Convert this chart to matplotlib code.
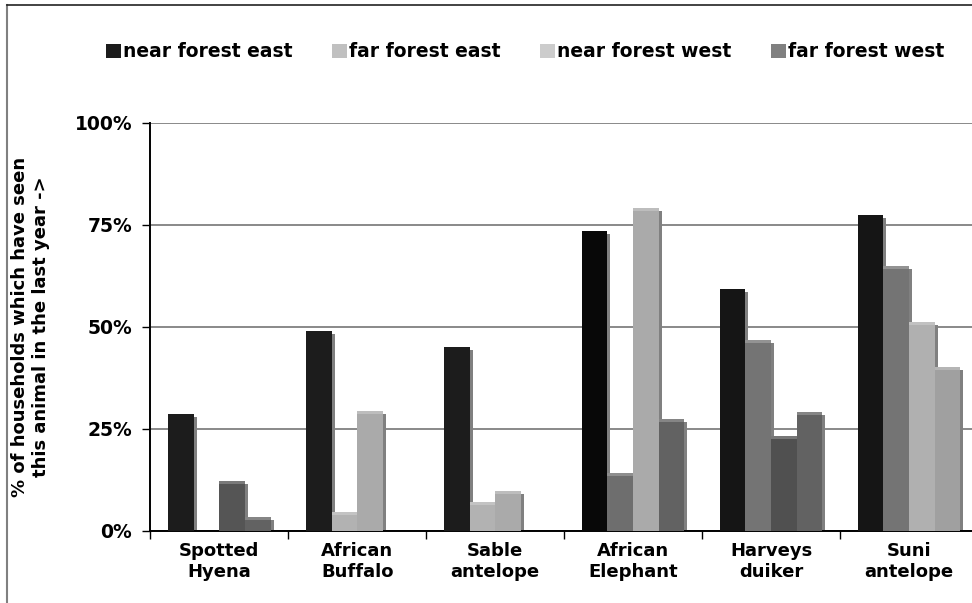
import numpy as np
import matplotlib.pyplot as plt
from matplotlib.patches import Patch
from matplotlib.lines import Line2D
from matplotlib.colors import to_rgb

plt.rcParams['font.family'] = 'DejaVu Sans'
plt.rcParams['font.weight'] = 'bold'

animals = ["Spotted\nHyena", "African\nBuffalo", "Sable\nantelope",
           "African\nElephant", "Harveys\nduiker", "Suni\nantelope"]
series = ["near forest east", "far forest east", "near forest west", "far forest west"]

# fraction of households (bar slot 1..4 in each group)
near_east = [0.286, 0.489, 0.450, 0.736, 0.592, 0.775]
far_east = [0.0, 0.046, 0.071, 0.142, 0.467, 0.650]
near_west = [0.122, 0.293, 0.097, 0.792, 0.232, 0.513]
far_west = [0.034, 0.0, 0.0, 0.274, 0.291, 0.403]
values = [near_east, far_east, near_west, far_west]

legend_colors = ['#1c1c1c', '#c0c0c0', '#cccccc', '#808080']
# the original chart shades every bar a little differently
face_colors = [
    ['#1c1c1c', '#1c1c1c', '#1c1c1c', '#080808', '#151515', '#151515'],
    ['#b4b4b4', '#b2b2b2', '#b2b2b2', '#6e6e6e', '#747474', '#747474'],
    ['#555555', '#aaaaaa', '#aaaaaa', '#aaaaaa', '#505050', '#b0b0b0'],
    ['#626262', '#626262', '#626262', '#626262', '#626262', '#a0a0a0'],
]

def lighter(c, f=0.22):
    r = np.array(to_rgb(c))
    if r.mean() < 0.2:
        return c
    return tuple(r + (1 - r) * f)

fig = plt.figure(figsize=(9.72, 6.03), dpi=100)
ax = fig.add_axes([150.3 / 972, 72 / 603, 827.7 / 972, 408 / 603])

w = 0.186
dx = 3 / 138.0   # 3 px shadow offset
dy = 3 / 408.0
groups = np.arange(len(animals))

for i, vals in enumerate(values):
    x = groups + 0.5 + (i - 1.5) * w
    h = np.array(vals)
    ax.bar(x + dx, np.clip(h - dy, 0, None), w, align='center',
           color='#808080', linewidth=0, zorder=2)
for i, vals in enumerate(values):
    x = groups + 0.5 + (i - 1.5) * w
    h = np.array(vals)
    ax.bar(x, h, w, color=face_colors[i], linewidth=0, zorder=3)
    caps = [lighter(c) for c in face_colors[i]]
    hc = np.where(h > 0, dy, 0)
    ax.bar(x, hc, w, bottom=h - hc, color=caps, linewidth=0, zorder=4)

ax.set_xlim(0, len(animals))
ax.set_ylim(0, 1)
ax.set_yticks([0, 0.25, 0.5, 0.75, 1.0])
ax.set_yticklabels(['0%', '25%', '50%', '75%', '100%'])
ax.yaxis.grid(True, color='#808080', linewidth=1.3, zorder=1)
ax.set_axisbelow(True)

ax.set_xticks(np.arange(len(animals) + 1))
ax.set_xticklabels([])
ax.set_xticks(groups + 0.5, minor=True)
ax.set_xticklabels(animals, minor=True)
ax.tick_params(axis='x', which='minor', length=0, pad=8, labelsize=13)
ax.tick_params(axis='x', which='major', length=6, width=1, direction='out')
ax.tick_params(axis='y', length=6, width=1, direction='out', labelsize=13.5, pad=7)

for s in ['top', 'right']:
    ax.spines[s].set_visible(False)
ax.spines['left'].set_linewidth(1.4)
ax.spines['bottom'].set_linewidth(1.4)

ax.set_ylabel("% of households which have seen\nthis animal in the last year ->",
              fontsize=13, fontweight='bold', labelpad=18, linespacing=1.2)

handles = [Patch(facecolor=c, edgecolor='none') for c in legend_colors]
fig.legend(handles, series, loc='center', bbox_to_anchor=(0.54, 0.914), ncol=4,
           frameon=False, fontsize=13.5, handlelength=0.8, handleheight=0.8,
           handletextpad=0.12, columnspacing=2.1)

# chart frame (partly cropped in the original)
fig.add_artist(Line2D([7 / 972, 7 / 972], [0, 1 - 5 / 603], color='#808080', linewidth=1.5))
fig.add_artist(Line2D([7 / 972, 1], [1 - 5 / 603, 1 - 5 / 603], color='#222222', linewidth=1.2))

fig.savefig('out.png', dpi=100)
